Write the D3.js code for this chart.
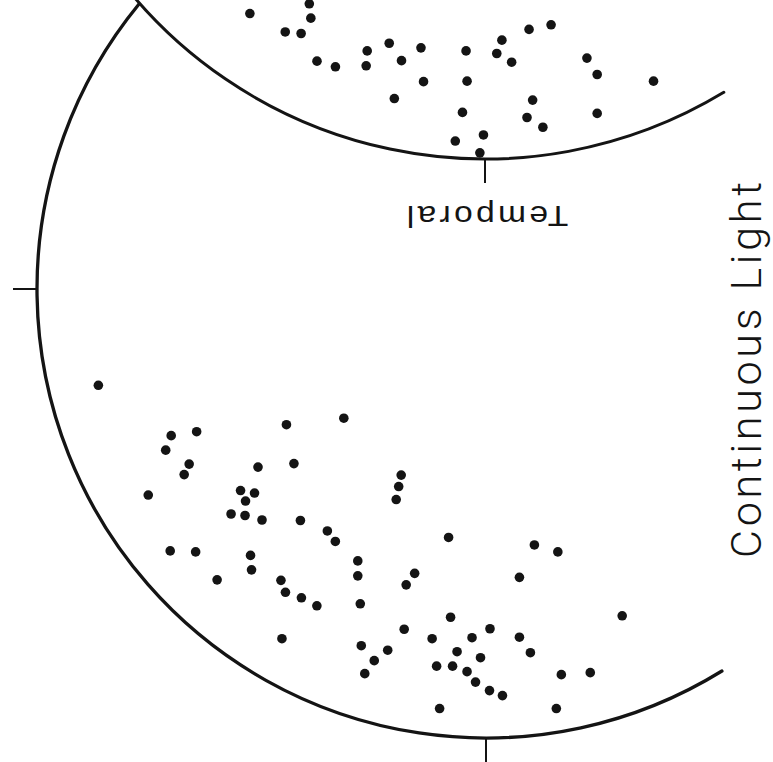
<!DOCTYPE html>
<html>
<head>
<meta charset="utf-8">
<script src="https://cdn.jsdelivr.net/npm/d3@7"></script>
<style>
  html, body { margin: 0; padding: 0; background: #fff; }
  svg { display: block; }
</style>
</head>
<body>
<script>
// Visual field positions (degrees from fixation, x to the right, y upward).
// Lower hemifield, perimeter at 90 deg.
const lowerX = [-77.7, -63.1, -58.0, -64.2, -59.5, -60.5, -67.7, -40.0, -28.5, -38.5,
                -45.7, -49.2, -46.4, -48.2, -51.1, -48.3, -44.9, -37.2, -31.8, -30.2,
                -63.3, -58.2, -47.2, -47.0, -53.9, -41.1, -40.2, -37.0, -33.9, -25.7,
                -25.7, -25.2, -40.9, -25.0, -19.7, -22.4, -24.3, -17.0, -17.5, -18.0,
                 -7.5,   9.7,  14.4,   6.7, -14.3, -16.0,  27.3,  -7.1, -16.4,   0.8,
                 -2.8, -10.8,   6.7,  -5.8,  -1.1,   8.9,  -9.9,  -6.7,  -3.8,  -2.1,
                  0.7,   3.3,  15.1,  20.9,  -9.3,  14.1];
const lowerY = [-19.3, -29.4, -28.6, -32.3, -35.1, -37.2, -41.3, -27.2, -25.9, -35.0,
                -35.7, -40.4, -40.9, -42.5, -45.1, -45.4, -46.3, -46.4, -48.5, -50.6,
                -52.5, -52.7, -53.4, -56.3, -58.3, -58.4, -60.8, -61.9, -63.5, -54.5,
                -57.5, -63.1, -70.1, -71.5, -72.4, -74.5, -77.1, -37.3, -39.6, -42.2,
                -49.8, -51.3, -52.7, -57.8, -57.0, -59.3, -65.5, -65.8, -68.2, -68.1,
                -69.9, -70.1, -69.8, -72.7, -73.9, -72.9, -75.6, -75.6, -76.7, -78.8,
                -80.5, -81.5, -77.3, -76.9, -84.1, -84.1];

// Upper (temporal) hemifield, perimeter at 90 deg.
const upperX = [-45.9, -34.3, -34.0, -39.0, -35.9, -32.8, -29.2, -23.0, -23.2, -18.7,
                -12.5, -16.3,  -3.7,   3.3,   2.3,   5.2,   8.6,  12.9,  19.9,  21.9,
                 32.9, -17.7, -12.0,  -3.5,  -4.4,   9.3,   8.2,  11.3,  21.9,  -5.8,
                 -0.3,  -1.0];
const upperY = [-61.6, -59.7, -62.5, -65.2, -65.5, -70.9, -72.0, -68.9, -71.8, -67.4,
                -68.3, -70.8, -68.9, -66.8, -69.4, -71.1, -64.7, -63.8, -70.3, -73.5,
                -74.8, -78.2, -74.9, -74.8, -80.9, -78.5, -81.9, -83.8, -81.1, -86.5,
                -85.3, -88.8];

const perimeterDeg = 90;
const meridianLabel = "Temporal";
const conditionLabel = "Continuous Light";

const W = 773, H = 762;
const ink = "#141414";
const rad = Math.PI / 180;

const svg = d3.select("body").append("svg")
  .attr("width", W).attr("height", H)
  .attr("viewBox", `0 0 ${W} ${H}`);

// Each hemifield chart is laid out around its own fixation point.
const panels = [
  { cx: 486, cy: 289, R: 449, xs: lowerX, ys: lowerY, from: 58.3, to: 219.4, ticks: [90, 180], sw: 3.3 },
  { cx: 485, cy: -302, R: 461, xs: upperX, ys: upperY, from: 58.8, to: 145, ticks: [90], sw: 3.0 }
];

panels.forEach(p => {
  const x = d3.scaleLinear().domain([-perimeterDeg, perimeterDeg]).range([p.cx - p.R, p.cx + p.R]);
  const y = d3.scaleLinear().domain([-perimeterDeg, perimeterDeg]).range([p.cy + p.R, p.cy - p.R]);
  const r = d3.scaleLinear().domain([0, perimeterDeg]).range([0, p.R]);

  const g = svg.append("g");

  // perimeter arc
  const path = d3.path();
  path.arc(p.cx, p.cy, r(perimeterDeg), p.from * rad, p.to * rad);
  g.append("path")
    .attr("d", path.toString())
    .attr("fill", "none")
    .attr("stroke", ink)
    .attr("stroke-width", p.sw)
    .attr("stroke-linecap", "round");

  // meridian ticks on the perimeter
  g.selectAll("line.tick").data(p.ticks).join("line")
    .attr("class", "tick")
    .attr("x1", a => p.cx + r(perimeterDeg) * Math.cos(a * rad))
    .attr("y1", a => p.cy + r(perimeterDeg) * Math.sin(a * rad))
    .attr("x2", a => p.cx + (r(perimeterDeg) + 24) * Math.cos(a * rad))
    .attr("y2", a => p.cy + (r(perimeterDeg) + 24) * Math.sin(a * rad))
    .attr("stroke", ink)
    .attr("stroke-width", 2);

  // responding locations
  g.selectAll("circle").data(d3.range(p.xs.length)).join("circle")
    .attr("cx", i => x(p.xs[i]))
    .attr("cy", i => y(p.ys[i]))
    .attr("r", 4.8)
    .attr("fill", ink);
});

// meridian label, set upside down beneath the upper chart's tick
const up = panels[1];
svg.append("text")
  .attr("transform", `translate(${up.cx + 2.5},${up.cy + up.R + 47}) rotate(180) scale(1.12,1)`)
  .attr("text-anchor", "middle")
  .attr("font-family", "'Liberation Sans', Arial, sans-serif")
  .attr("font-size", 30)
  .attr("textLength", 144)
  .attr("lengthAdjust", "spacing")
  .attr("fill", ink)
  .text(meridianLabel);

// condition title, running up the right edge
svg.append("text")
  .attr("transform", `translate(761,370) rotate(-90)`)
  .attr("text-anchor", "middle")
  .attr("font-family", "Roboto, 'Liberation Sans', sans-serif")
  .attr("font-weight", 300)
  .attr("font-size", 43)
  .attr("textLength", 376)
  .attr("lengthAdjust", "spacing")
  .attr("fill", ink)
  .text(conditionLabel);
</script>
</body>
</html>
